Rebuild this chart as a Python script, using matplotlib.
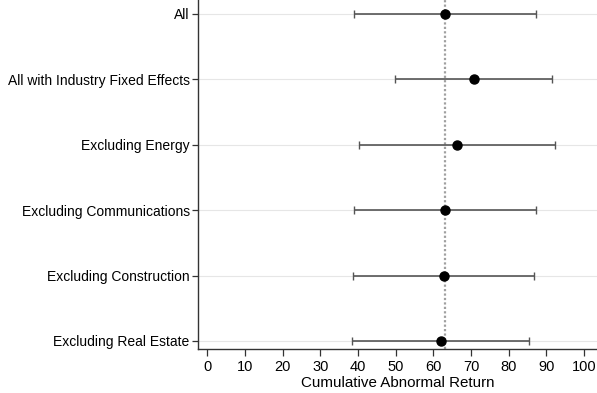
import matplotlib
matplotlib.use("Agg")
import matplotlib.pyplot as plt
import numpy as np

plt.rcParams['font.family'] = ['Liberation Sans', 'DejaVu Sans']

labels = ["All", "All with Industry Fixed Effects", "Excluding Energy",
          "Excluding Communications", "Excluding Construction",
          "Excluding Real Estate"]
estimate = [63.1, 70.7, 66.2, 63.1, 62.7, 61.9]
ci_low = [39.0, 49.7, 40.3, 39.0, 38.6, 38.4]
ci_high = [87.1, 91.4, 92.3, 87.1, 86.6, 85.3]
ref_value = 63.1

fig = plt.figure(figsize=(5.97, 3.93), dpi=100)
ax = fig.add_axes([198/597, 43.7/393, 1 - 198/597, 1 - 43.7/393])

y = np.arange(len(labels))
est = np.array(estimate)
lo = est - np.array(ci_low)
hi = np.array(ci_high) - est

for yy in y:
    ax.axhline(yy, color='#e6e6e6', lw=0.8, zorder=0)
ax.axvline(ref_value, color='#a0a0a0', lw=1.6, ls=(0, (1, 1)), zorder=1)
ax.errorbar(est, y, xerr=[lo, hi], fmt='none', ecolor='#555555',
            elinewidth=1.2, capsize=3, capthick=1.0, zorder=2)
ax.plot(est, y, 'o', color='black', ms=6.5, zorder=3)

ax.set_yticks(y)
ax.set_yticklabels(labels)
ax.set_ylim(5.127, -0.214)
ax.set_xlim(-2.47, 103.4)
ax.set_xticks(np.arange(0, 101, 10))
ax.set_xlabel("Cumulative Abnormal Return", fontsize=10.9, labelpad=1.5)

for s in ['top', 'right']:
    ax.spines[s].set_visible(False)
for s in ['left', 'bottom']:
    ax.spines[s].set_color('#333333')
    ax.spines[s].set_linewidth(1.0)
ax.tick_params(axis='both', colors='#333333', length=4, width=0.9,
               labelsize=10, labelcolor='black', pad=2)
ax.tick_params(axis='x', length=5, pad=3, labelsize=10.5)

fig.savefig("out.png", dpi=100)
